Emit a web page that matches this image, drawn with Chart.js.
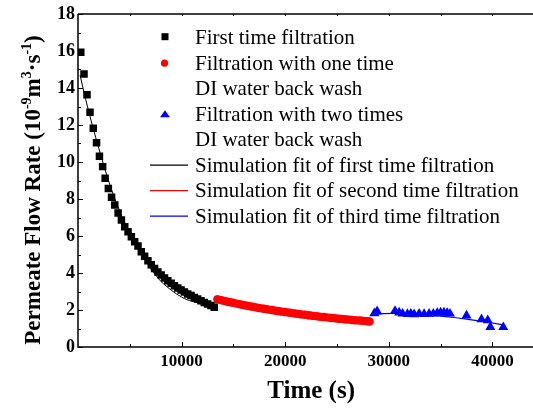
<!DOCTYPE html>
<html><head><meta charset="utf-8">
<script src="https://cdn.jsdelivr.net/npm/chart.js@4.4.1/dist/chart.umd.min.js"></script>
<style>html,body{margin:0;padding:0;background:#fff;overflow:hidden}#wrap{width:533px;height:408px;position:relative;overflow:hidden}</style>
</head><body><div id="wrap"><canvas id="c" width="550" height="408"></canvas></div>
<script>
// ---- data ----
const firstTime = [270,580,870,1160,1475,1790,2070,2380,2620,2930,3240,3550,3870,4190,4510,4830,5150,5470,5790,6110,6430,6750,7070,7390,7710,8030,8350,8670,8990,9310,9630,9950,10270,10590,10910,11230,11550,11870,12190,12510,12830,13150];
const firstFlow = [15.93,14.76,13.64,12.69,11.82,11.04,10.31,9.75,9.12,8.57,8.10,7.68,7.24,6.86,6.50,6.23,5.96,5.69,5.46,5.15,4.90,4.66,4.44,4.24,4.06,3.89,3.73,3.58,3.44,3.31,3.19,3.08,2.97,2.87,2.78,2.68,2.59,2.50,2.41,2.32,2.24,2.15];

const secondTime = [13450,13700,13950,14200,14450,14700,14950,15200,15450,15700,15950,16200,16450,16700,16950,17200,17450,17700,17950,18200,18450,18700,18950,19200,19450,19700,19950,20200,20450,20700,20950,21200,21450,21700,21950,22200,22450,22700,22950,23200,23450,23700,23950,24200,24450,24700,24950,25200,25450,25700,25950,26200,26450,26700,26950,27200,27450,27700,27950,28150];
const secondFlow = [2.58,2.55,2.51,2.48,2.45,2.42,2.39,2.36,2.33,2.30,2.27,2.24,2.22,2.19,2.17,2.14,2.11,2.09,2.07,2.04,2.02,2.00,1.97,1.95,1.93,1.91,1.89,1.87,1.85,1.83,1.81,1.79,1.77,1.75,1.74,1.72,1.70,1.68,1.67,1.65,1.63,1.62,1.60,1.59,1.57,1.56,1.54,1.53,1.52,1.50,1.49,1.48,1.46,1.45,1.44,1.43,1.42,1.40,1.39,1.38];

const thirdTime = [28600,28870,30600,31000,31330,31800,32130,32450,32930,33410,33890,34300,34680,35000,35320,35630,35900,37500,38950,39550,39800,41050];
const thirdFlow = [1.82,1.93,1.95,1.86,1.80,1.78,1.80,1.77,1.80,1.78,1.79,1.80,1.84,1.86,1.86,1.84,1.80,1.70,1.50,1.44,1.08,1.07];

const fit1Time = [200,500,1000,1500,2000,2500,3000,3500,4000,4500,5000,5500,6000,6500,7000,7500,8000,8500,9000,9500,10000,10500,11000,11500,12000,12500,13000,13300];
const fit1Flow = [14.7,13.95,12.8,11.75,10.75,9.8,8.9,8.1,7.38,6.74,6.17,5.66,5.18,4.70,4.25,3.88,3.55,3.30,3.07,2.87,2.70,2.56,2.47,2.39,2.32,2.24,2.14,2.10];

const fit2Time = [13450,14450,15450,16450,17450,18450,19450,20450,21450,22450,23450,24450,25450,26450,27450,28150];
const fit2Flow = [2.58,2.45,2.33,2.22,2.11,2.02,1.93,1.85,1.77,1.70,1.63,1.57,1.52,1.46,1.42,1.38];

const fit3Time = [28600,29500,30500,31500,32500,33500,34500,35500,36500,37500,38500,39500,40500,41100];
const fit3Flow = [1.76,1.80,1.82,1.80,1.77,1.73,1.69,1.64,1.58,1.51,1.43,1.34,1.25,1.19];

const yTickLabels = [0,2,4,6,8,10,12,14,16,18];
const xTickLabels = [10000,20000,30000,40000];
const legendLabels = [
  ['First time filtration'],
  ['Filtration with one time','DI water back wash'],
  ['Filtration with two times','DI water back wash'],
  ['Simulation fit of first time filtration'],
  ['Simulation fit of second time filtration'],
  ['Simulation fit of third time filtration']
];

const FONT = '"Liberation Serif", "Times New Roman", Times, serif';
const pts = (xs, ys) => xs.map((x, i) => ({x, y: ys[i]}));

const framePlugin = {
  id: 'frame',
  afterDraw(chart) {
    const {ctx, chartArea: a, scales: {x, y}} = chart;
    ctx.save();
    ctx.strokeStyle = '#000';
    ctx.lineWidth = 1.5;
    ctx.beginPath();
    ctx.moveTo(a.left, a.top); ctx.lineTo(a.left, a.bottom); ctx.lineTo(a.right, a.bottom);
    ctx.moveTo(a.left, a.top); ctx.lineTo(a.right, a.top);
    ctx.stroke();
    ctx.lineWidth = 1;
    ctx.beginPath();
    for (let v = 0; v <= 18; v += 1) {
      const py = Math.round(y.getPixelForValue(v)) + 0.5;
      const len = v % 2 === 0 ? 5 : 3;
      ctx.moveTo(a.left, py); ctx.lineTo(a.left + len, py);
    }
    for (let v = 5000; v <= 40000; v += 5000) {
      const px = Math.round(x.getPixelForValue(v)) + 0.5;
      const len = v % 10000 === 0 ? 5 : 3;
      ctx.moveTo(px, a.bottom); ctx.lineTo(px, a.bottom - len);
      ctx.moveTo(px, a.top); ctx.lineTo(px, a.top + 2);
    }
    ctx.stroke();

    // x tick labels
    ctx.fillStyle = '#000';
    ctx.font = 'bold 17px ' + FONT;
    ctx.textAlign = 'center';
    ctx.textBaseline = 'middle';
    xTickLabels.forEach(v => ctx.fillText(String(v), x.getPixelForValue(v), 362));
    ctx.textAlign = 'left';

    // y axis title with superscripts
    const parts = [
      {t: 'Permeate Flow Rate (10'}, {t: '-9', sup: true}, {t: 'm'}, {t: '3', sup: true},
      {t: '\u00B7s'}, {t: '-1', sup: true}, {t: ')'}
    ];
    const big = 'bold 23px ' + FONT, small = 'bold 14px ' + FONT;
    let total = 0;
    parts.forEach(p => { ctx.font = p.sup ? small : big; p.w = ctx.measureText(p.t).width; total += p.w; });
    ctx.save();
    ctx.translate(40, 190);
    ctx.rotate(-Math.PI / 2);
    ctx.textBaseline = 'alphabetic';
    let xx = -total / 2;
    parts.forEach(p => { ctx.font = p.sup ? small : big; ctx.fillText(p.t, xx, p.sup ? -9 : 0); xx += p.w; });
    ctx.restore();
    ctx.restore();

    // legend
    ctx.save();
    ctx.font = '21px ' + FONT;
    ctx.fillStyle = '#000';
    ctx.textBaseline = 'alphabetic';
    let row = 0;
    const base = 44, step = 25.5, tx = 195;
    legendLabels.forEach((lines, i) => {
      const cy = base + step * row - 7.3;
      if (i === 0) { ctx.fillStyle = '#000'; ctx.fillRect(161.5, cy - 3.5, 7, 7); }
      if (i === 1) { ctx.fillStyle = '#ff0000'; ctx.beginPath(); ctx.arc(164.5, cy + 1, 3.6, 0, Math.PI * 2); ctx.fill(); }
      if (i === 2) { ctx.fillStyle = '#0000ff'; ctx.beginPath(); ctx.moveTo(165, cy - 3); ctx.lineTo(170, cy + 4); ctx.lineTo(160, cy + 4); ctx.closePath(); ctx.fill(); }
      if (i >= 3) {
        ctx.strokeStyle = ['#000000', '#ff0000', '#0000ff'][i - 3];
        ctx.lineWidth = 1.2;
        ctx.beginPath(); ctx.moveTo(150, cy + 1); ctx.lineTo(188, cy + 1); ctx.stroke();
      }
      ctx.fillStyle = '#000';
      lines.forEach(l => { ctx.fillText(l, tx, base + step * row); row++; });
    });
    ctx.restore();
  }
};

new Chart(document.getElementById('c'), {
  type: 'scatter',
  data: {
    datasets: [
      {label: 'First time filtration', data: pts(firstTime, firstFlow), pointStyle: 'rect', pointRadius: 5.3, backgroundColor: '#000', borderWidth: 0, showLine: false},
      {label: 'Filtration with one time DI water back wash', data: pts(secondTime, secondFlow), pointStyle: 'circle', pointRadius: 4.2, backgroundColor: '#ff0000', borderWidth: 0, showLine: false},
      {label: 'Filtration with two times DI water back wash', data: pts(thirdTime, thirdFlow), pointStyle: 'triangle', pointRadius: 5.8, backgroundColor: '#0000ff', borderWidth: 0, showLine: false},
      {label: 'Simulation fit of first time filtration', data: pts(fit1Time, fit1Flow), showLine: true, pointRadius: 0, borderColor: '#000', borderWidth: 1, cubicInterpolationMode: 'monotone'},
      {label: 'Simulation fit of second time filtration', data: pts(fit2Time, fit2Flow), showLine: true, pointRadius: 0, borderColor: '#ff0000', borderWidth: 1, cubicInterpolationMode: 'monotone'},
      {label: 'Simulation fit of third time filtration', data: pts(fit3Time, fit3Flow), showLine: true, pointRadius: 0, borderColor: '#0000ff', borderWidth: 1.2, cubicInterpolationMode: 'monotone'}
    ]
  },
  options: {
    responsive: false,
    animation: false,
    devicePixelRatio: 1,
    layout: {padding: {top: 14, right: 2, left: 0, bottom: 0}},
    plugins: {legend: {display: false}, tooltip: {enabled: false}},
    scales: {
      x: {
        type: 'linear', min: 0, max: 45000,
        border: {display: false},
        grid: {display: false, drawTicks: false},
        ticks: {display: false, stepSize: 10000},
        title: {display: true, text: 'Time (s)', color: '#000', font: {family: FONT, size: 25, weight: 'bold'}, padding: {top: 0, bottom: 1}},
        afterFit: s => { s.height = 61; }
      },
      y: {
        type: 'linear', min: 0, max: 18,
        border: {display: false},
        grid: {display: false, drawTicks: false},
        ticks: {
          stepSize: 2, padding: 3, color: '#000',
          font: {family: FONT, size: 18, weight: 'bold'},
          callback: v => yTickLabels.includes(v) ? String(v) : ''
        },
        afterFit: s => { s.width = 78; }
      }
    }
  },
  plugins: [framePlugin]
});
</script>
</body></html>
